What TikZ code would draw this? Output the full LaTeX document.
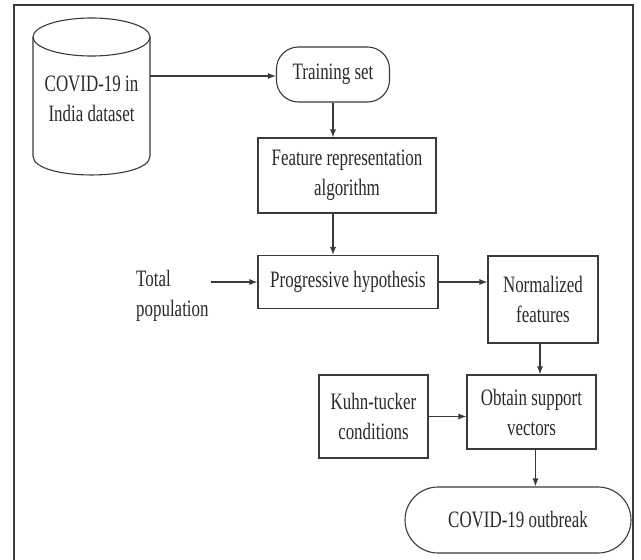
\documentclass[tikz,border=0pt]{standalone}
\usepackage{fontspec}
\setmainfont{Liberation Serif}[FakeStretch=0.72]
\usetikzlibrary{arrows.meta}
\definecolor{ln}{HTML}{3A3A3A}
\definecolor{tx}{HTML}{2A2A2A}
\tikzset{
  every node/.style={text=tx, font=\fontsize{23.5}{30}\selectfont, align=center, inner sep=0pt},
  line/.style={draw=ln, line width=1.1pt},
  boxnode/.style={line, rectangle},
  pill/.style={line, rectangle, rounded corners=22pt},
  arr/.style={line, -{Latex[length=8pt,width=6pt]}},
}
\begin{document}
\begin{tikzpicture}[x=1pt,y=-1pt]
\useasboundingbox (0,0) rectangle (641,560);
\fill[white] (0,0) rectangle (641,560);
% frame
\draw[draw=ln, line width=1.4pt] (14,575) -- (14,5) -- (633,5) -- (633,575);
% cylinder
\draw[line] (33,37) -- (33,156) .. controls (33,181.3) and (150,181.3) .. (150,156) -- (150,37);
\draw[line] (91.5,37) ellipse [x radius=58.5pt, y radius=19pt];
\node (data) at (91.5,99) {COVID-19 in\\India dataset};
\coordinate (dataR) at (150,76);
% nodes
\node[pill, minimum width=113pt, minimum height=55pt] (train) at (333,74.5) {Training set};
\node[boxnode, minimum width=178pt, minimum height=75pt] (feat) at (347,175.5) {Feature representation\\algorithm};
\node[boxnode, minimum width=180pt, minimum height=53pt] (prog) at (348,282) {Progressive hypothesis};
\node[align=left, anchor=west] (pop) at (136,296) {Total\\population};
\node[boxnode, minimum width=110pt, minimum height=87pt] (norm) at (543,299.5) {Normalized\\features};
\node[boxnode, minimum width=109pt, minimum height=83pt] (kuhn) at (373.5,416.5) {Kuhn-tucker\\conditions};
\node[boxnode, minimum width=129pt, minimum height=74pt] (obt) at (531.5,412) {Obtain support\\vectors};
\node[pill, rounded corners=33pt, minimum width=226pt, minimum height=66pt] (out) at (518,520) {COVID-19 outbreak};
% connectors
\draw[arr] (dataR) -- (dataR -| train.west);
\draw[arr] (train.south) -- (train.south |- feat.north);
\draw[arr] (feat.south -| train.south) -- (train.south |- prog.north);
\draw[arr] ([xshift=2pt]pop.east |- prog.west) -- (prog.west);
\draw[arr] (prog.east) -- (prog.east -| norm.west);
\draw[arr] ([xshift=-3pt]norm.south) -- ([xshift=-3pt]norm.south |- obt.north);
\draw[arr] (kuhn.east) -- (kuhn.east -| obt.west);
\draw[arr] ([xshift=4pt]obt.south) -- ([xshift=4pt]obt.south |- out.north);
\end{tikzpicture}
\end{document}
